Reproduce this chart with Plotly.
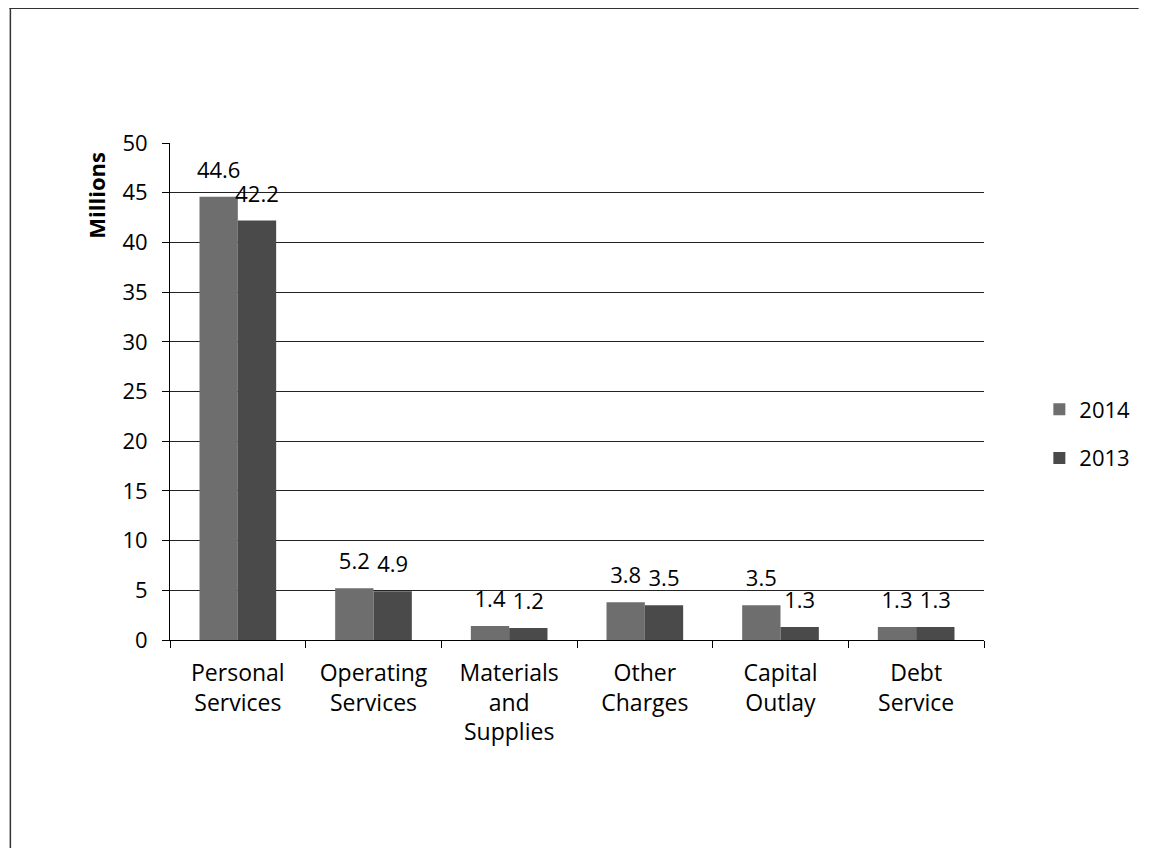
import plotly.graph_objects as go

categories = ["Personal<br>Services", "Operating<br>Services", "Materials<br>and<br>Supplies",
              "Other<br>Charges", "Capital<br>Outlay", "Debt<br>Service"]
values_2014 = [44.6, 5.2, 1.4, 3.8, 3.5, 1.3]
values_2013 = [42.2, 4.9, 1.2, 3.5, 1.3, 1.3]
y_ticks = [0, 5, 10, 15, 20, 25, 30, 35, 40, 45, 50]

FONT = "Open Sans"
FS = 22
GAP = 0.435

fig = go.Figure()
fig.add_trace(go.Bar(name="2014", x=categories, y=values_2014, legendgroup="a",
                     marker=dict(color="#6e6e6e", line=dict(width=0))))
fig.add_trace(go.Bar(name="2013", x=categories, y=values_2013, legendgroup="b",
                     marker=dict(color="#4a4a4a", line=dict(width=0))))
# data labels (transparent markers push the text a little above the bar tops)
for vals in (values_2014, values_2013):
    fig.add_trace(go.Scatter(x=categories, y=vals, mode="markers+text",
                             text=[f"{v:.1f}" for v in vals], textposition="top center",
                             marker=dict(size=20, color="rgba(0,0,0,0)"),
                             textfont=dict(size=FS, color="black", family=FONT),
                             showlegend=False, hoverinfo="skip", cliponaxis=False))

W, H = 1139, 840
L, R, T, B = 162, 156, 135, 208
pw, ph = W - L - R, H - T - B

fig.update_layout(
    width=W, height=H,
    margin=dict(l=L, r=R, t=T, b=B),
    paper_bgcolor="white", plot_bgcolor="white",
    barmode="group", bargap=GAP, bargroupgap=0,
    scattermode="group", scattergap=GAP,
    font=dict(family=FONT, size=FS, color="black"),
    legend=dict(x=1.068, y=0.4145, xanchor="left", yanchor="middle",
                font=dict(size=FS, family=FONT), tracegroupgap=17, itemwidth=30),
    showlegend=True,
    xaxis=dict(showline=True, linecolor="black", linewidth=1,
               ticks="outside", ticklen=7, tickcolor="black",
               tickson="boundaries", showgrid=False, ticklabelstandoff=12,
               tickfont=dict(size=23, family=FONT)),
    yaxis=dict(range=[0, 50], tickvals=y_ticks, showline=True, linecolor="black",
               linewidth=1, ticks="outside", ticklen=7, tickcolor="black",
               showgrid=True, gridcolor="#222222", gridwidth=1, zeroline=False,
               ticklabelstandoff=10,
               tickfont=dict(size=FS, family=FONT)),
    annotations=[
        dict(text="<b>Millions</b>", textangle=-90, xref="paper", yref="paper",
             x=(95 - 8 - L) / pw, y=(H - B - (195 - 8)) / ph,
             xanchor="center", yanchor="middle", showarrow=False,
             font=dict(size=22, family=FONT, color="black")),
    ],
    shapes=[
        dict(type="line", xref="paper", yref="paper",
             x0=-L / pw, x1=(W - L) / pw, y0=(H - B - 0.5) / ph, y1=(H - B - 0.5) / ph,
             line=dict(color="#333333", width=1)),
        dict(type="line", xref="paper", yref="paper",
             x0=(1 - L) / pw, x1=(1 - L) / pw, y0=(H - B) / ph, y1=-B / ph,
             line=dict(color="#333333", width=1.5)),
    ],
)

fig.write_html("out.html")
